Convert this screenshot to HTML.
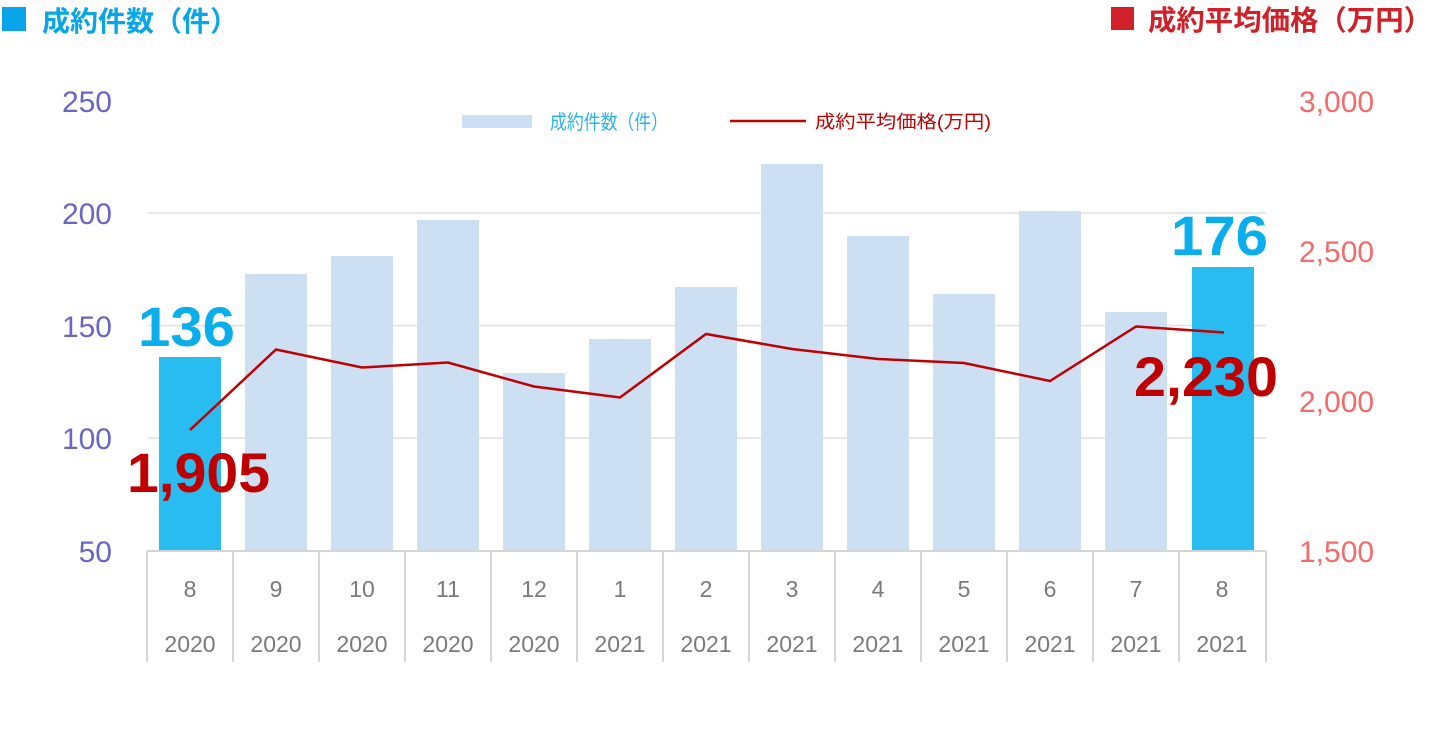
<!DOCTYPE html>
<html><head><meta charset="utf-8"><style>
html,body{margin:0;padding:0;background:#fff;}
svg{display:block;font-family:"Liberation Sans","Noto Sans CJK JP",sans-serif;}
</style></head><body>
<svg width="1440" height="738" viewBox="0 0 1440 738" xmlns="http://www.w3.org/2000/svg">
<!-- headers -->
<rect x="2" y="7" width="24" height="24" fill="#0aa5e8"/>
<text x="42" y="31" font-size="28" font-weight="bold" fill="#0aa5e8">成約件数（件）</text>
<rect x="1111" y="7" width="23" height="23" fill="#d0202a"/>
<text x="1148" y="30" font-size="28" font-weight="bold" fill="#d0202a" textLength="284" lengthAdjust="spacingAndGlyphs">成約平均価格（万円）</text>
<!-- gridlines -->
<g stroke="#e0e0e0" stroke-width="1.5">
<line x1="148" y1="213" x2="1266" y2="213"/>
<line x1="148" y1="325.5" x2="1266" y2="325.5"/>
<line x1="148" y1="438" x2="1266" y2="438"/>
</g>
<!-- left axis -->
<g font-size="30" fill="#6a65c9" text-anchor="end">
<text x="112" y="112">250</text><text x="112" y="224">200</text><text x="112" y="337">150</text><text x="112" y="449">100</text><text x="112" y="562">50</text>
</g>
<!-- right axis -->
<g font-size="30" fill="#f56a6a" text-anchor="start">
<text x="1299" y="112">3,000</text><text x="1299" y="262">2,500</text><text x="1299" y="412">2,000</text><text x="1299" y="562">1,500</text>
</g>
<!-- bars -->
<g fill="#cddff3">
<rect x="245" y="274" width="62" height="276"/>
<rect x="331" y="256" width="62" height="294"/>
<rect x="417" y="220" width="62" height="330"/>
<rect x="503" y="373" width="62" height="177"/>
<rect x="589" y="339" width="62" height="211"/>
<rect x="675" y="287" width="62" height="263"/>
<rect x="761" y="164" width="62" height="386"/>
<rect x="847" y="236" width="62" height="314"/>
<rect x="933" y="294" width="62" height="256"/>
<rect x="1019" y="211" width="62" height="339"/>
<rect x="1105" y="312" width="62" height="238"/>
</g>
<rect x="159" y="357" width="62" height="193" fill="#29bcf0"/>
<rect x="1192" y="267" width="62" height="283" fill="#29bcf0"/>
<!-- line -->
<polyline fill="none" stroke="#c00000" stroke-width="2.5" points="190,430 276,349.5 362,367.5 448,362.5 534,386.5 620,397.5 706,334 792,349 878,359 964,363 1050,381 1136,326.5 1224,332.5"/>
<!-- legend -->
<rect x="462" y="115" width="70" height="13" fill="#cddff3"/>
<text x="550" y="129" font-size="20" fill="#29b5ec" textLength="118" lengthAdjust="spacingAndGlyphs">成約件数（件）</text>
<line x1="730" y1="121" x2="806" y2="121" stroke="#c00000" stroke-width="2.5"/>
<text x="815" y="128" font-size="18" fill="#c00000" textLength="176" lengthAdjust="spacingAndGlyphs">成約平均価格(万円)</text>
<!-- data labels -->
<text x="138" y="346" font-size="56" font-weight="bold" fill="#0aaeec" textLength="97" lengthAdjust="spacingAndGlyphs">136</text>
<text x="1171" y="255" font-size="56" font-weight="bold" fill="#0aaeec" textLength="97" lengthAdjust="spacingAndGlyphs">176</text>
<text x="127" y="492" font-size="56" font-weight="bold" fill="#c00000" textLength="143" lengthAdjust="spacingAndGlyphs">1,905</text>
<text x="1134" y="396" font-size="56" font-weight="bold" fill="#c00000" textLength="144" lengthAdjust="spacingAndGlyphs">2,230</text>
<!-- category axis -->
<line x1="147" y1="551" x2="1266" y2="551" stroke="#d5d5d5" stroke-width="2"/>
<g stroke="#d5d5d5" stroke-width="2">
<line x1="147" y1="551" x2="147" y2="662"/><line x1="233" y1="551" x2="233" y2="662"/><line x1="319" y1="551" x2="319" y2="662"/><line x1="405" y1="551" x2="405" y2="662"/><line x1="491" y1="551" x2="491" y2="662"/><line x1="577" y1="551" x2="577" y2="662"/><line x1="663" y1="551" x2="663" y2="662"/><line x1="749" y1="551" x2="749" y2="662"/><line x1="835" y1="551" x2="835" y2="662"/><line x1="921" y1="551" x2="921" y2="662"/><line x1="1007" y1="551" x2="1007" y2="662"/><line x1="1093" y1="551" x2="1093" y2="662"/><line x1="1179" y1="551" x2="1179" y2="662"/><line x1="1266" y1="551" x2="1266" y2="662"/>
</g>
<g font-size="23" fill="#7a7a7a" text-anchor="middle">
<text x="190" y="597">8</text><text x="276" y="597">9</text><text x="362" y="597">10</text><text x="448" y="597">11</text><text x="534" y="597">12</text><text x="620" y="597">1</text><text x="706" y="597">2</text><text x="792" y="597">3</text><text x="878" y="597">4</text><text x="964" y="597">5</text><text x="1050" y="597">6</text><text x="1136" y="597">7</text><text x="1222" y="597">8</text>
<text x="190" y="652">2020</text><text x="276" y="652">2020</text><text x="362" y="652">2020</text><text x="448" y="652">2020</text><text x="534" y="652">2020</text><text x="620" y="652">2021</text><text x="706" y="652">2021</text><text x="792" y="652">2021</text><text x="878" y="652">2021</text><text x="964" y="652">2021</text><text x="1050" y="652">2021</text><text x="1136" y="652">2021</text><text x="1222" y="652">2021</text>
</g>
</svg>
</body></html>
